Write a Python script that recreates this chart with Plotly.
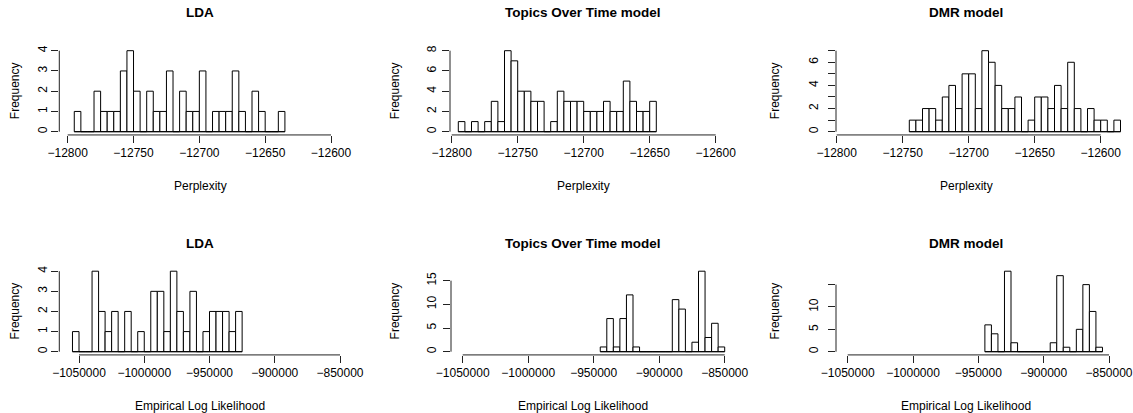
import plotly.graph_objects as go

W, H = 1133, 413

# ---------------- data ----------------
perp_bin_width = 5
ll_bin_width = 5000

lda_perp_start = -12795
lda_perp_counts = [1, 0, 0, 2, 1, 1, 1, 3, 4, 2, 0, 2, 1, 1, 3, 0, 2, 1, 1, 3, 0, 1, 1, 1, 3, 1, 0, 2, 1, 0, 0, 1]

tot_perp_start = -12795
tot_perp_counts = [1, 0, 1, 0, 1, 3, 1, 8, 7, 4, 4, 3, 3, 0, 1, 4, 3, 3, 3, 2, 2, 2, 3, 2, 2, 5, 3, 2, 2, 3]

dmr_perp_start = -12745
dmr_perp_counts = [1, 1, 2, 2, 1, 3, 4, 2, 5, 5, 2, 7, 6, 4, 2, 2, 3, 0, 1, 3, 3, 2, 4, 2, 6, 2, 0, 2, 1, 1, 0, 1]

lda_ll_start = -1055000
lda_ll_counts = [1, 0, 0, 4, 2, 1, 2, 0, 2, 0, 1, 0, 3, 3, 1, 4, 2, 1, 3, 0, 1, 2, 2, 2, 1, 2]

tot_ll_start = -945000
tot_ll_counts = [1, 7, 1, 7, 12, 1, 0, 0, 0, 0, 0, 11, 9, 0, 2, 17, 3, 6, 1]

dmr_ll_start = -945000
dmr_ll_counts = [6, 4, 0, 18, 2, 0, 0, 0, 0, 0, 2, 17, 1, 0, 5, 15, 9, 1]

perp_ticks = [-12800, -12750, -12700, -12650, -12600]
ll_ticks = [-1050000, -1000000, -950000, -900000, -850000]

titles = ["LDA", "Topics Over Time model", "DMR model"]
perp_xlabel = "Perplexity"
ll_xlabel = "Empirical Log Likelihood"
ylabel = "Frequency"

y_ticks = [
    [0, 1, 2, 3, 4],
    [0, 2, 4, 6, 8],
    [0, 1, 2, 3, 4, 5, 6, 7],
    [0, 1, 2, 3, 4],
    [0, 5, 10, 15],
    [0, 5, 10, 15],
]
y_ticklabels = [
    ["0", "1", "2", "3", "4"],
    ["0", "2", "4", "6", "8"],
    ["0", "", "2", "", "4", "", "6", ""],
    ["0", "1", "2", "3", "4"],
    ["0", "5", "10", "15"],
    ["0", "5", "10", ""],
]

# ---------------- layout geometry (pixels) ----------------
geom = [
    dict(L=59.3, R=367.7, a=67.7, b=331.0, row=0, tl_off=0, cx=200, fx=15),
    dict(L=450.0, R=747.4, a=451.7, b=715.7, row=0, tl_off=1, cx=583, fx=395),
    dict(L=836.0, R=1130.0, a=836.7, b=1100.7, row=0, tl_off=5, cx=966, fx=775),
    dict(L=59.3, R=367.7, a=79.0, b=340.0, row=1, tl_off=0, cx=200, fx=15),
    dict(L=451.0, R=744.6, a=462.7, b=724.7, row=1, tl_off=2, cx=583, fx=395),
    dict(L=836.0, R=1130.0, a=847.7, b=1109.0, row=1, tl_off=5, cx=966, fx=775),
]
rows = [dict(zero=131.7, top=50.7, title=13, xlab=186),
        dict(zero=351.7, top=271.2, title=244, xlab=406)]

series = [
    (lda_perp_start, perp_bin_width, lda_perp_counts, perp_ticks),
    (tot_perp_start, perp_bin_width, tot_perp_counts, perp_ticks),
    (dmr_perp_start, perp_bin_width, dmr_perp_counts, perp_ticks),
    (lda_ll_start, ll_bin_width, lda_ll_counts, ll_ticks),
    (tot_ll_start, ll_bin_width, tot_ll_counts, ll_ticks),
    (dmr_ll_start, ll_bin_width, dmr_ll_counts, ll_ticks),
]

FONT = "Liberation Sans, Arial, Helvetica, sans-serif"
fig = go.Figure()
layout = dict(
    width=W, height=H, margin=dict(l=0, r=0, t=0, b=0, pad=0, autoexpand=False),
    paper_bgcolor="white", plot_bgcolor="white", showlegend=False,
    font=dict(family=FONT, size=12, color="black"),
)
shapes = []
annotations = []


def fmt(v):
    return str(int(v)).replace("-", "\u2212")


for i, ((start, bw, counts, xt), g) in enumerate(zip(series, geom)):
    n = i + 1
    xa = "x" if n == 1 else f"x{n}"
    ya = "y" if n == 1 else f"y{n}"
    r = rows[g["row"]]
    ymax = max(counts)
    px_per_unit = (r["zero"] - r["top"]) / ymax
    y_lo, y_hi = -0.04 * ymax, 1.04 * ymax
    bottom_px = r["zero"] - y_lo * px_per_unit
    top_px = r["zero"] - y_hi * px_per_unit
    sx = (g["b"] - g["a"]) / (xt[-1] - xt[0])
    x_lo = xt[0] + (g["L"] - g["a"]) / sx
    x_hi = xt[0] + (g["R"] - g["a"]) / sx

    edges_left = [start + k * bw for k in range(len(counts))]
    centers = [e + bw / 2 for e in edges_left]
    fig.add_trace(go.Bar(
        x=centers, y=counts, width=[bw] * len(counts),
        marker=dict(color="white", line=dict(color="black", width=1)),
        xaxis=xa, yaxis=ya, hoverinfo="skip",
    ))
    fig.add_trace(go.Scatter(
        x=[edges_left[0], edges_left[-1] + bw], y=[0, 0], mode="lines",
        line=dict(color="black", width=1), xaxis=xa, yaxis=ya, hoverinfo="skip",
    ))

    key_x = "xaxis" if n == 1 else f"xaxis{n}"
    key_y = "yaxis" if n == 1 else f"yaxis{n}"
    layout[key_x] = dict(
        domain=[g["L"] / W, g["R"] / W], range=[x_lo, x_hi], anchor=ya,
        showgrid=False, zeroline=False, showline=False, automargin=False,
        ticks="outside", ticklen=7, tickwidth=1, tickcolor="#222",
        tickvals=xt, ticktext=[fmt(v) for v in xt],
        tickfont=dict(size=12, color="black", family=FONT),
        fixedrange=True,
    )
    layout[key_y] = dict(
        domain=[1 - bottom_px / H, 1 - top_px / H], range=[y_lo, y_hi], anchor=xa,
        showgrid=False, zeroline=False, showline=False, automargin=False,
        ticks="outside", ticklen=7, tickwidth=1, tickcolor="#222",
        tickvals=y_ticks[i], ticktext=y_ticklabels[i], tickangle=-90,
        ticklabelstandoff=g["tl_off"],
        tickfont=dict(size=12, color="black", family=FONT),
        fixedrange=True,
    )
    shapes.append(dict(type="line", xref=xa, yref=f"{ya} domain", x0=xt[0], x1=xt[-1], y0=0, y1=0,
                       line=dict(color="#222", width=1)))
    shapes.append(dict(type="line", xref=f"{xa} domain", yref=ya, x0=0, x1=0,
                       y0=y_ticks[i][0], y1=y_ticks[i][-1], line=dict(color="#222", width=1)))

    annotations.append(dict(text=f"<b>{titles[i % 3]}</b>", x=g["cx"] / W, y=1 - r["title"] / H,
                            xref="paper", yref="paper", showarrow=False, xanchor="center", yanchor="middle",
                            font=dict(size=13.5, color="black", family=FONT)))
    annotations.append(dict(text=perp_xlabel if g["row"] == 0 else ll_xlabel,
                            x=g["cx"] / W, y=1 - r["xlab"] / H,
                            xref="paper", yref="paper", showarrow=False, xanchor="center", yanchor="middle",
                            font=dict(size=12, color="black", family=FONT)))
    annotations.append(dict(text=ylabel, x=g["fx"] / W, y=1 - ((r["zero"] + r["top"]) / 2) / H,
                            xref="paper", yref="paper", showarrow=False, xanchor="center", yanchor="middle",
                            textangle=-90, font=dict(size=12, color="black", family=FONT)))

layout["shapes"] = shapes
layout["annotations"] = annotations
fig.update_layout(**layout)
fig.write_html("out.html")
